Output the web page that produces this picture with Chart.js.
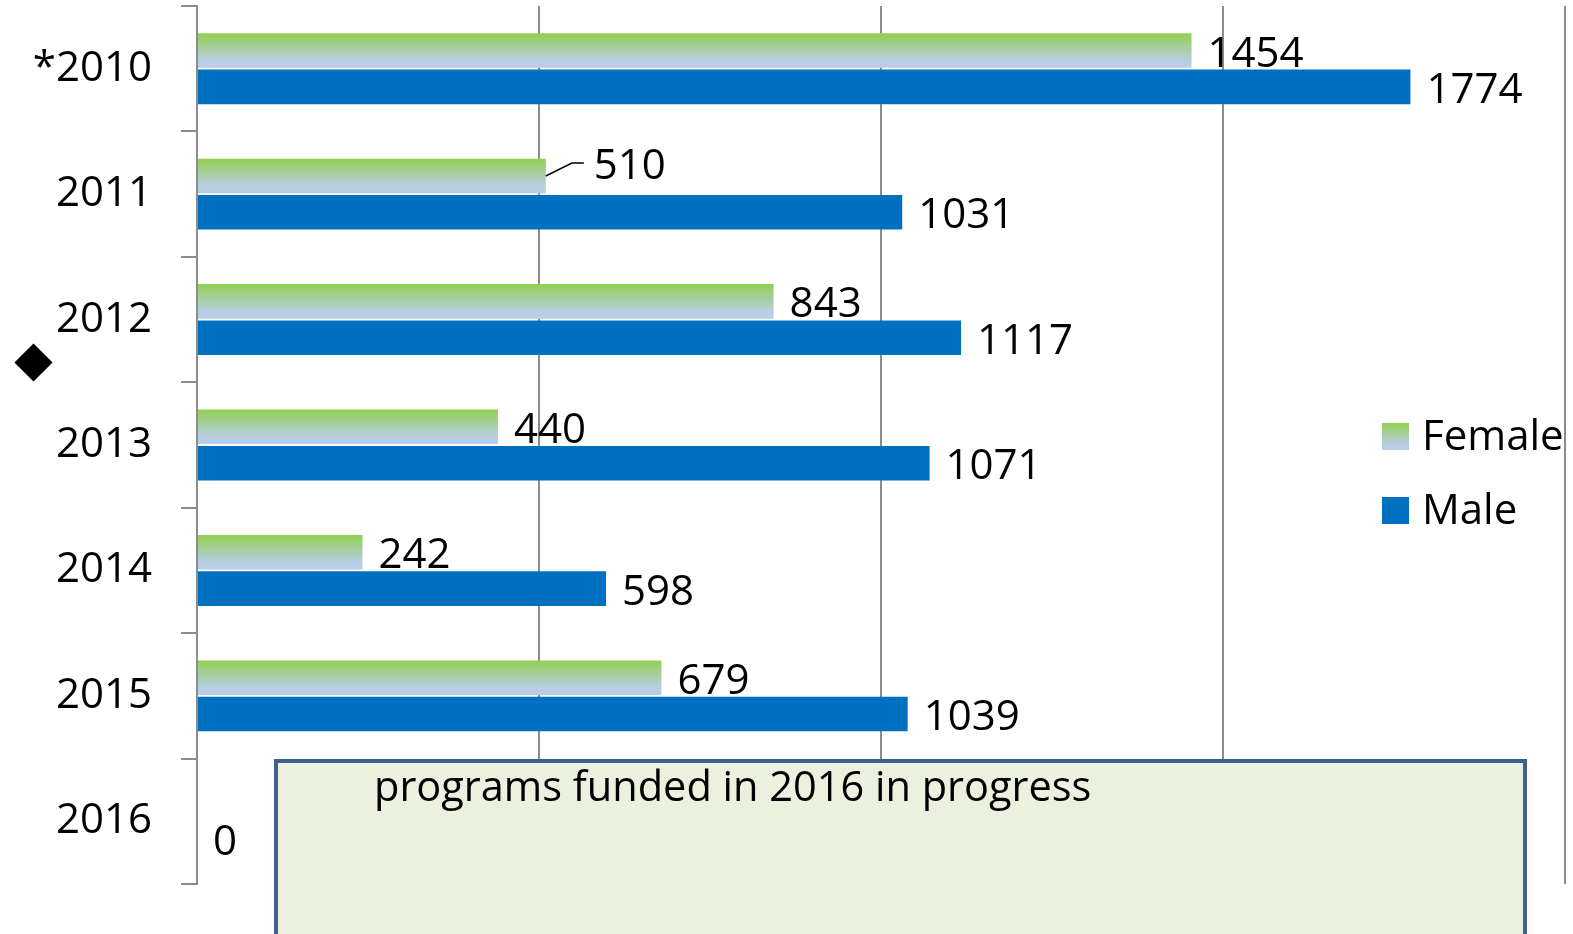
<!DOCTYPE html>
<html>
<head>
<meta charset="utf-8">
<title>Program participants by year</title>
<script src="https://cdn.jsdelivr.net/npm/chart.js@4.4.1/dist/chart.umd.min.js"></script>
<style>
    html, body { margin: 0; padding: 0; background: #fff; }
    #wrap { position: relative; width: 1573px; height: 934px; overflow: hidden; }
    #note {
        position: absolute; left: 274px; top: 759px; width: 1253px; height: 220px;
        box-sizing: border-box; background: #EBF0DF; border: 4px solid #3F6190;
        font-family: 'Open Sans', sans-serif; font-size: 41.5px; color: #000;
    }
    #note span { position: absolute; left: 96px; top: -6px; line-height: 57px; white-space: nowrap; }
    #marker {
        position: absolute; left: 20px; top: 349px; width: 27px; height: 27px;
        background: #000; transform: rotate(45deg);
    }
</style>
</head>
<body>
<div id="wrap">
    <canvas id="genderChart"></canvas>
    <div id="marker"></div>
    <div id="note"><span>programs funded in 2016 in progress</span></div>
</div>
<script>
// Chart data
const years = ['*2010', '2011', '2012', '2013', '2014', '2015', '2016'];
const female = [1454, 510, 843, 440, 242, 679, null];
const male = [1774, 1031, 1117, 1071, 598, 1039, 0];
const seriesNames = ['Female', 'Male'];
const xTicks = [0, 500, 1000, 1500, 2000];

const FONT = '"Open Sans", sans-serif';
const FONT_SIZE = 42;
const GREEN = '#92D050';
const LIGHT_BLUE = '#B9CDE5';
const BLUE = '#0070C0';
const GRID = '#8C8C8C';

function femaleGradient(ctx, top, height) {
    const g = ctx.createLinearGradient(0, top, 0, top + height);
    g.addColorStop(0, GREEN);
    g.addColorStop(0.8, LIGHT_BLUE);
    g.addColorStop(1, LIGHT_BLUE);
    return g;
}

// Paint the female bars with the green -> light blue fade
const barGradient = {
    id: 'barGradient',
    beforeDatasetsDraw(chart) {
        const ctx = chart.ctx;
        chart.getDatasetMeta(0).data.forEach(bar => {
            const top = bar.y - bar.height / 2;
            bar.options.backgroundColor = femaleGradient(ctx, top, bar.height);
        });
    }
};

// Value labels at the end of each bar
const barLabels = {
    id: 'barLabels',
    afterDatasetsDraw(chart) {
        const ctx = chart.ctx;
        ctx.save();
        ctx.font = FONT_SIZE + 'px ' + FONT;
        ctx.fillStyle = '#000';
        ctx.textBaseline = 'alphabetic';
        chart.data.datasets.forEach((ds, di) => {
            chart.getDatasetMeta(di).data.forEach((bar, i) => {
                const v = ds.data[i];
                if (v === null) return;
                let x = bar.x + 16;
                let y = bar.y + 16;
                // the 2011 female label is pulled up with a small leader line
                if (di === 0 && i === 1) {
                    ctx.beginPath();
                    ctx.strokeStyle = '#000';
                    ctx.lineWidth = 1.5;
                    ctx.moveTo(bar.x, bar.y);
                    ctx.lineTo(bar.x + 26, bar.y - 13);
                    ctx.lineTo(bar.x + 38, bar.y - 13);
                    ctx.stroke();
                    x = bar.x + 48;
                    y = bar.y + 3;
                }
                ctx.fillText(String(v), x, y);
            });
        });
        ctx.restore();
    }
};

// Legend drawn inside the plot, right side
const insideLegend = {
    id: 'insideLegend',
    afterDraw(chart) {
        const ctx = chart.ctx;
        const left = 1382;
        const tops = [423, 497];
        ctx.save();
        ctx.font = FONT_SIZE + 'px ' + FONT;
        chart.data.datasets.forEach((ds, di) => {
            const top = tops[di];
            ctx.fillStyle = di === 0 ? femaleGradient(ctx, top, 27) : BLUE;
            ctx.fillRect(left, top, 27, 27);
            ctx.fillStyle = '#000';
            ctx.fillText(ds.label, left + 40, top + 27);
        });
        ctx.restore();
    }
};

function drawChart() {
    const ctx = document.getElementById('genderChart').getContext('2d');
    new Chart(ctx, {
        type: 'bar',
        data: {
            labels: years,
            datasets: [{
                label: seriesNames[0],
                data: female,
                backgroundColor: () => GREEN
            }, {
                label: seriesNames[1],
                data: male,
                backgroundColor: BLUE
            }]
        },
        options: {
            indexAxis: 'y',
            responsive: true,
            maintainAspectRatio: false,
            animation: false,
            categoryPercentage: 0.58,
            barPercentage: 0.95,
            layout: { padding: { top: 6, right: 8, bottom: 50, left: 0 } },
            plugins: {
                legend: { display: false },
                tooltip: { enabled: false }
            },
            scales: {
                x: {
                    min: xTicks[0],
                    max: xTicks[xTicks.length - 1],
                    afterBuildTicks: scale => { scale.ticks = xTicks.map(v => ({ value: v })); },
                    ticks: { display: false },
                    grid: { color: GRID, lineWidth: 2, drawTicks: false },
                    border: { display: false },
                    afterFit: scale => {
                        scale.height = 0;
                        scale.paddingLeft = 0;
                        scale.paddingRight = 0;
                    }
                },
                y: {
                    ticks: {
                        color: '#000',
                        padding: 29,
                        font: { family: FONT, size: FONT_SIZE }
                    },
                    grid: {
                        offset: true,
                        drawOnChartArea: false,
                        tickLength: 16,
                        color: GRID,
                        lineWidth: 2
                    },
                    border: { color: GRID, width: 2 },
                    afterFit: scale => {
                        scale.width = 197;
                        scale.paddingTop = 0;
                        scale.paddingBottom = 0;
                    }
                }
            }
        },
        plugins: [barGradient, barLabels, insideLegend]
    });
}

drawChart();
</script>
</body>
</html>
